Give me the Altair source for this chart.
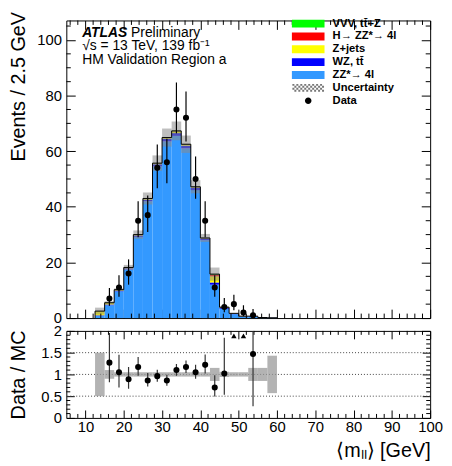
import altair as alt
import pandas as pd

# ---------------- data ----------------
bin_lo = [12.5, 15.0, 17.5, 20.0, 22.5, 25.0, 27.5, 30.0, 32.5, 35.0,
          37.5, 40.0, 42.5, 45.0, 47.5, 50.0, 52.5, 55.0, 57.5]
bin_hi = [15.0, 17.5, 20.0, 22.5, 25.0, 27.5, 30.0, 32.5, 35.0, 37.5,
          40.0, 42.5, 45.0, 47.5, 50.0, 52.5, 55.0, 57.5, 60.0]

zz    = [0.8, 4.6, 9.6, 17.5, 29.2, 42.0, 54.5, 63.5, 65.5, 61.0,
         46.0, 28.0, 12.0, 3.3, 1.4, 0.5, 0.53, 0.15, 0.08]
wz    = [0.2, 0.3, 0.3, 0.4, 0.5, 0.6, 0.8, 1.0, 1.0, 1.0,
         0.9, 0.6, 0.8, 0.3, 0.15, 0.1, 0.1, 0.03, 0.02]
zjets = [1.4, 0.5, 0.2, 0.2, 0.2, 0.3, 0.3, 0.3, 0.6, 0.3,
         0.2, 0.1, 2.2, 0.2, 0.1, 0.05, 0.03, 0.01, 0.0]
higgs = [0.05, 0.05, 0.05, 0.05, 0.05, 0.05, 0.05, 0.05, 0.1, 0.1,
         0.05, 0.05, 0.6, 0.05, 0.03, 0.03, 0.01, 0.005, 0.0]
vvv   = [0.05, 0.05, 0.05, 0.05, 0.05, 0.05, 0.05, 0.05, 0.1, 0.1,
         0.05, 0.05, 0.2, 0.05, 0.02, 0.02, 0.01, 0.005, 0.0]
unc_rel = [0.5, 0.1, 0.05, 0.05, 0.05, 0.05, 0.05, 0.05, 0.05, 0.05,
           0.05, 0.05, 0.15, 0.06, 0.05, 0.05, 0.15, 0.15, 0.43]

data_counts = [0, 7, 11, 16, 35, 37, 54, 56, 75, 72, 50, 35, 11, 4, 5, 2, 1, 0, 0]
data_err_up = [0, 3.8, 4.4, 5.1, 7.0, 7.1, 8.4, 8.5, 9.7, 9.5, 8.1, 7.0, 4.4, 3.2, 3.4, 2.6, 2.3, 0, 0]
data_err_dn = [0, 2.6, 3.3, 4.0, 5.9, 6.1, 7.3, 7.5, 8.6, 8.5, 7.1, 5.9, 3.3, 1.9, 2.2, 1.3, 0.8, 0, 0]

ratio_vals = [None, 1.27, 1.05, 0.89, 1.17, 0.86, 0.96, 0.86, 1.10, 1.17,
              1.05, 1.22, 0.70, 1.02, None, None, 1.47, None, None]
ratio_up   = [None, 0.68, 0.40, 0.28, 0.23, 0.17, 0.15, 0.13, 0.14, 0.15,
              0.17, 0.24, 0.28, 0.82, None, None, 0.70, None, None]
ratio_dn   = [None, 0.45, 0.35, 0.22, 0.20, 0.14, 0.13, 0.12, 0.13, 0.14,
              0.15, 0.20, 0.21, 0.49, None, None, 1.20, None, None]
ratio_over_bins = [14, 15]   # indices of bins whose ratio is above the frame

comp_names = ["ZZ*→ 4l", "WZ, tt\u0304", "Z+jets", "H→ ZZ*→ 4l", "VVV, tt\u0304+Z"]
comp_values = [zz, wz, zjets, higgs, vvv]

legend_order = ["VVV, tt\u0304+Z", "H→ ZZ*→ 4l", "Z+jets", "WZ, tt\u0304", "ZZ*→ 4l",
                "Uncertainty", "Data"]
legend_colors = ["#00ff00", "#ff0000", "#ffff00", "#0000ff", "#3399ff", "#777777", "#000000"]

x_major = [10, 20, 30, 40, 50, 60, 70, 80, 90, 100]
x_minor = [v for v in range(6, 100, 2) if v % 10 != 0]
y_major = [0, 20, 40, 60, 80, 100]
y_minor = [v for v in range(5, 106, 5) if v % 20 != 0]
r_major = [0, 0.5, 1, 1.5, 2]
r_minor = [round(0.1 * i, 1) for i in range(1, 20) if i % 5 != 0]
r_grid = [0.5, 1, 1.5]

# ---------------- tables ----------------
rows = []
for i in range(len(bin_lo)):
    base = 0.0
    for name, vals in zip(comp_names, comp_values):
        rows.append({"lo": bin_lo[i], "hi": bin_hi[i], "comp": name,
                     "y0": base, "y1": base + vals[i]})
        base += vals[i]
stack_df = pd.DataFrame(rows)

total = [sum(v[i] for v in comp_values) for i in range(len(bin_lo))]
unc_df = pd.DataFrame({
    "lo": bin_lo, "hi": bin_hi,
    "u0": [t * (1 - r) for t, r in zip(total, unc_rel)],
    "u1": [t * (1 + r) for t, r in zip(total, unc_rel)],
    "r0": [1 - r for r in unc_rel], "r1": [1 + r for r in unc_rel],
})

outline_df = pd.DataFrame({
    "x": [bin_lo[0]] + bin_lo + [bin_hi[-1]],
    "y": [0.0] + total + [0.0],
})

ctr = [(a + b) / 2 for a, b in zip(bin_lo, bin_hi)]
pts_df = pd.DataFrame({"x": ctr, "n": data_counts,
                       "lo": [n - d for n, d in zip(data_counts, data_err_dn)],
                       "hi": [n + u for n, u in zip(data_counts, data_err_up)]})
pts_df = pts_df[pts_df["n"] > 0]

rat_df = pd.DataFrame({"x": ctr, "r": ratio_vals, "u": ratio_up, "d": ratio_dn}).dropna()
rat_df["lo"] = rat_df["r"] - rat_df["d"]
rat_df["hi"] = rat_df["r"] + rat_df["u"]
over_df = pd.DataFrame({"x": [ctr[i] for i in ratio_over_bins]})

# ---------------- style ----------------
FONT = "Liberation Sans"
W, H, RH = 368, 301, 88
TK, MTK = 9, 4.5
xsc = alt.Scale(domain=[5, 100], nice=False, zero=False)
ysc = alt.Scale(domain=[0, 107], nice=False, zero=True)
rsc = alt.Scale(domain=[0, 2], nice=False, zero=True)


def tick_axis(orient, values, size, **kw):
    base = dict(orient=orient, values=values, offset=-size, tickSize=size,
                domain=False, grid=False, tickColor="black", tickWidth=1,
                labels=False, title=None)
    base.update(kw)
    return alt.Axis(**base)


# legend symbol shapes (unit box scaled by sqrt(size)/2)
box = "M-3.3,-0.8H3.3V0.8H-3.3Z"
checker = []
for i in range(16):
    for j in range(4):
        if (i + j) % 2 == 0:
            x0 = -3.2 + 0.4 * i
            y0 = -0.8 + 0.4 * j
            checker.append(f"M{x0:.2f},{y0:.2f}h0.4v0.4h-0.4Z")
hatch = "".join(checker)
dot = "M-0.66,0A0.66,0.66 0 1,0 0.66,0A0.66,0.66 0 1,0 -0.66,0Z"
legend_shapes = [box, box, box, box, box, hatch, dot]

leg = alt.Legend(title=None, orient="none", legendX=239, legendY=-2.5,
                 symbolSize=100, symbolStrokeColor="black", symbolStrokeWidth=1,
                 symbolOpacity=1, labelFont=FONT, labelFontSize=11.3,
                 labelFontWeight="bold", labelColor="black", rowPadding=0,
                 labelOffset=19, padding=0, labelLimit=200)
color_enc = alt.Color("comp:N", scale=alt.Scale(domain=legend_order, range=legend_colors),
                      legend=leg, sort=legend_order)
shape_enc = alt.Shape("comp:N", scale=alt.Scale(domain=legend_order, range=legend_shapes),
                      legend=leg, sort=legend_order)

# ---------------- main panel ----------------
stack = alt.Chart(stack_df).mark_rect(strokeWidth=0).encode(
    x=alt.X("lo:Q", scale=xsc, axis=tick_axis("bottom", x_major, TK)),
    x2="hi:Q",
    y=alt.Y("y0:Q", scale=ysc, axis=tick_axis(
        "left", y_major, TK, labels=True, labelPadding=5, labelFont=FONT,
        labelFontSize=15, labelColor="black",
        title="Events / 2.5 GeV", titleFont=FONT, titleFontSize=20,
        titleFontWeight="normal", titleColor="black",
        titleX=-47, titleY=-9, titleAlign="right", titleBaseline="bottom")),
    y2="y1:Q",
    color=color_enc,
)

unc = alt.Chart(unc_df).mark_rect(color="#8a8a8a", opacity=0.55).encode(
    x=alt.X("lo:Q", scale=xsc, axis=None), x2="hi:Q",
    y=alt.Y("u0:Q", scale=ysc, axis=None), y2="u1:Q",
)

outline = alt.Chart(outline_df).mark_line(color="black", strokeWidth=1,
                                          interpolate="step-after").encode(
    x=alt.X("x:Q", scale=xsc, axis=None), y=alt.Y("y:Q", scale=ysc, axis=None))

xmin_df = pd.DataFrame({"v": x_minor})
ymin_df = pd.DataFrame({"v": y_minor})
mt = []
for yv in ((H, H - MTK), (0, MTK)):
    mt.append(alt.Chart(xmin_df).mark_rule(color="black", strokeWidth=1).encode(
        x=alt.X("v:Q", scale=xsc, axis=None), y=alt.value(yv[0]), y2=alt.value(yv[1])))
for xv in ((0, MTK), (W - MTK, W)):
    mt.append(alt.Chart(ymin_df).mark_rule(color="black", strokeWidth=1).encode(
        y=alt.Y("v:Q", scale=ysc, axis=None), x=alt.value(xv[0]), x2=alt.value(xv[1])))

errs = alt.Chart(pts_df).mark_rule(color="black", strokeWidth=1.2).encode(
    x=alt.X("x:Q", scale=xsc, axis=None),
    y=alt.Y("lo:Q", scale=ysc, axis=None), y2="hi:Q")
pts = alt.Chart(pts_df).mark_circle(color="black", size=38, opacity=1).encode(
    x=alt.X("x:Q", scale=xsc, axis=tick_axis("top", x_major, TK)),
    y=alt.Y("n:Q", scale=ysc, axis=tick_axis("right", y_major, TK)))

legend_layer = alt.Chart(pd.DataFrame({"comp": legend_order})).mark_point(
    filled=True, opacity=0).encode(
    x=alt.value(0), y=alt.value(0), color=color_enc, shape=shape_enc)


def label(txt, x, y, **kw):
    return alt.Chart(pd.DataFrame({"t": [txt]})).mark_text(
        font=FONT, fontSize=14, align="left", baseline="alphabetic",
        color="black", **kw).encode(x=alt.value(x), y=alt.value(y), text="t:N")


texts = [
    label("ATLAS", 16, 16.3, fontWeight="bold", fontStyle="italic"),
    label("Preliminary", 65.5, 16.3),
    label("√s = 13 TeV, 139 fb⁻¹", 16, 29.7),
    label("HM Validation Region a", 16, 44),
]

main = alt.layer(stack, unc, outline, *mt, errs, pts, *texts, legend_layer).resolve_axis(
    x="independent", y="independent").properties(width=W, height=H)

# ---------------- ratio panel ----------------
RTK = 8
grid = alt.Chart(pd.DataFrame({"g": r_grid})).mark_rule(
    color="#444444", strokeWidth=1, strokeDash=[1, 2]).encode(
    y=alt.Y("g:Q", scale=rsc, axis=None))
rband = alt.Chart(unc_df).mark_rect(color="#9a9a9a", opacity=0.75).encode(
    x=alt.X("lo:Q", scale=xsc, axis=tick_axis(
        "bottom", x_major, RTK, labels=True, labelPadding=2, labelFont=FONT,
        labelFontSize=15, labelColor="black", labelFlush=False, labelOverlap=False,
        title="⟨mₗₗ⟩ [GeV]", titleFont=FONT, titleFontSize=20,
        titleFontWeight="normal", titleColor="black",
        titleX=W, titleY=47, titleAlign="right", titleBaseline="alphabetic")),
    x2="hi:Q",
    y=alt.Y("r0:Q", scale=rsc, axis=tick_axis(
        "left", r_major, RTK, labels=True, labelPadding=5, labelFont=FONT,
        labelFontSize=15, labelColor="black", format="~g",
        title="Data / MC", titleFont=FONT, titleFontSize=20,
        titleFontWeight="normal", titleColor="black",
        titleX=-46, titleY=RH / 2, titleAlign="center", titleBaseline="bottom")),
    y2="r1:Q",
)
rmin_df = pd.DataFrame({"v": r_minor})
rmt = []
for yv in ((RH, RH - 4), (0, 4)):
    rmt.append(alt.Chart(xmin_df).mark_rule(color="black", strokeWidth=1).encode(
        x=alt.X("v:Q", scale=xsc, axis=None), y=alt.value(yv[0]), y2=alt.value(yv[1])))
for xv in ((0, 4), (W - 4, W)):
    rmt.append(alt.Chart(rmin_df).mark_rule(color="black", strokeWidth=1).encode(
        y=alt.Y("v:Q", scale=rsc, axis=None), x=alt.value(xv[0]), x2=alt.value(xv[1])))
rerr = alt.Chart(rat_df).mark_rule(color="#333333", strokeWidth=1.2, clip=True).encode(
    x=alt.X("x:Q", scale=xsc, axis=None),
    y=alt.Y("lo:Q", scale=rsc, axis=None), y2="hi:Q")
rpts = alt.Chart(rat_df).mark_circle(color="black", size=38, opacity=1).encode(
    x=alt.X("x:Q", scale=xsc, axis=tick_axis("top", x_major, RTK)),
    y=alt.Y("r:Q", scale=rsc, axis=tick_axis("right", r_major, RTK)))
over = alt.Chart(over_df).mark_point(shape="triangle-up", filled=True, color="black",
                                     size=30, opacity=1).encode(
    x=alt.X("x:Q", scale=xsc, axis=None), y=alt.value(5))

ratio = alt.layer(grid, rband, *rmt, rerr, rpts, over).resolve_axis(
    x="independent", y="independent").properties(width=W, height=RH)

chart = alt.vconcat(main, ratio, spacing=13, bounds="flush").properties(
    padding={"left": 0, "top": 0, "right": 0, "bottom": 0},
    background="white",
).configure_view(stroke="black", strokeWidth=1)

chart.save("out.html", embed_options={"renderer": "svg", "actions": False})
